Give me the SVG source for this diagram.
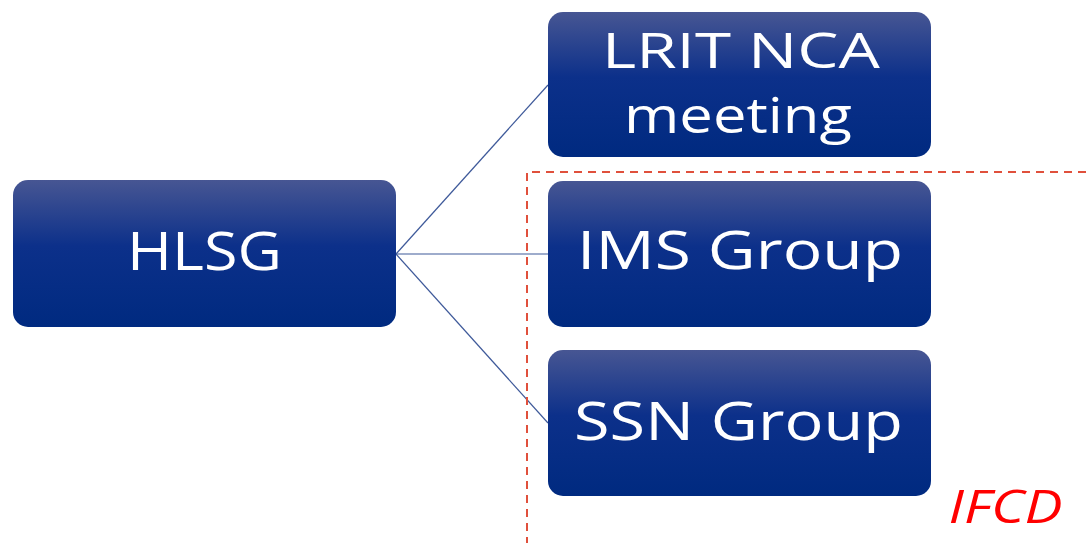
<svg xmlns="http://www.w3.org/2000/svg" width="1086" height="543" viewBox="0 0 1086 543">
<style>
.box{fill:url(#g);}
.t{font-family:"Open Sans","Noto Sans","DejaVu Sans",sans-serif;font-size:53px;fill:#ffffff;text-anchor:middle;}
.t2{font-size:50px;}
.c{stroke:#3f5a9a;stroke-width:1.2;fill:none;}
.d{stroke:#e0503c;stroke-width:2;stroke-dasharray:8 6;fill:none;}
</style>
<defs>
<linearGradient id="g" x1="0" y1="0" x2="0" y2="1">
<stop offset="0" stop-color="#475693"/>
<stop offset="0.45" stop-color="#0c308a"/>
<stop offset="1" stop-color="#002a80"/>
</linearGradient>
</defs>
<rect width="1086" height="543" fill="#ffffff"/>
<g id="connectors">
<line class="c" x1="396" y1="254" x2="548" y2="85"/>
<line class="c" x1="396" y1="254" x2="548" y2="254"/>
<line class="c" x1="396" y1="254" x2="548" y2="423"/>
</g>
<g id="ifcd-region">
<path class="d" d="M1086 172 H527 V543"/>
<text x="1005.5" y="523" font-family="Open Sans, Noto Sans, sans-serif" font-size="45" font-style="italic" fill="#ff0000" text-anchor="middle" textLength="114" lengthAdjust="spacingAndGlyphs">IFCD</text>
</g>
<g id="hlsg">
<rect class="box" x="13" y="180" width="383" height="147" rx="15"/>
<text class="t" x="204.5" y="270" textLength="155" lengthAdjust="spacingAndGlyphs">HLSG</text>
</g>
<g id="lrit">
<rect class="box" x="548" y="12" width="383" height="145" rx="15"/>
<text class="t t2" x="741" y="68" textLength="278" lengthAdjust="spacingAndGlyphs">LRIT NCA</text>
<text class="t t2" x="738" y="133" textLength="228" lengthAdjust="spacingAndGlyphs">meeting</text>
</g>
<g id="ims">
<rect class="box" x="548" y="181" width="383" height="146" rx="15"/>
<text class="t" x="740" y="269" textLength="326" lengthAdjust="spacingAndGlyphs">IMS Group</text>
</g>
<g id="ssn">
<rect class="box" x="548" y="350" width="383" height="146" rx="15"/>
<text class="t" x="738.5" y="440" textLength="329" lengthAdjust="spacingAndGlyphs">SSN Group</text>
</g>
</svg>
